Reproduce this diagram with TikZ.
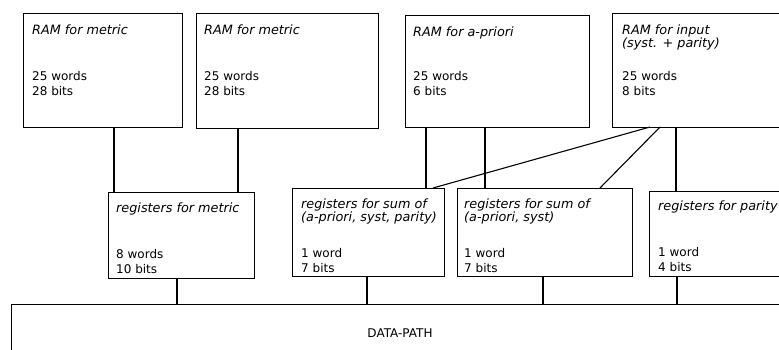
\documentclass[tikz,border=0pt]{standalone}
\usepackage{fontspec}
\setmainfont{DejaVu Sans}
\begin{document}
\begin{tikzpicture}[x=1pt,y=-1pt,
  box/.style={draw, line width=0.8pt, rectangle, anchor=north west, inner sep=0pt, outer sep=0pt},
  wire/.style={line width=1.1pt},
  ttl/.style={anchor=base west, inner sep=0pt, font=\fontsize{12.8}{13}\selectfont\itshape, align=left},
  sz/.style={anchor=base west, inner sep=0pt, font=\fontsize{12}{15}\selectfont, align=left},
  dp/.style={inner sep=0pt, font=\fontsize{12}{13}\selectfont}]
\clip (0,0) rectangle (779,349);
% RAM boxes
\node[box, minimum width=159pt, minimum height=114pt] (ram1) at (23,13) {};
\node[box, minimum width=182pt, minimum height=115pt] (ram2) at (196,13) {};
\node[box, minimum width=184pt, minimum height=112pt] (ram3) at (405,15) {};
\node[box, minimum width=190pt, minimum height=114pt] (ram4) at (612,13) {};
% register boxes
\node[box, minimum width=146pt, minimum height=86pt] (regm) at (108,192) {};
\node[box, minimum width=152pt, minimum height=88pt] (sum1) at (292,188) {};
\node[box, minimum width=175pt, minimum height=88pt] (sum2) at (457,188) {};
\node[box, minimum width=150pt, minimum height=85pt] (regp) at (649,191) {};
% data path
\node[box, minimum width=800pt, minimum height=80pt] (dpath) at (11,304) {};
% texts (base = baseline of last line)
\node[ttl] (t1) at ([shift={(9,21)}]ram1.north west) {RAM for metric};
\node[sz]  (s1) at ([shift={(9,82)}]ram1.north west) {25 words\\28 bits};
\node[ttl] (t2) at ([shift={(8,21)}]ram2.north west) {RAM for metric};
\node[sz]  (s2) at ([shift={(8,82)}]ram2.north west) {25 words\\28 bits};
\node[ttl] (t3) at ([shift={(8,21)}]ram3.north west) {RAM for a-priori};
\node[sz]  (s3) at ([shift={(8,80)}]ram3.north west) {25 words\\6 bits};
\node[ttl] (t4) at ([shift={(10,34)}]ram4.north west) {RAM for input\\(syst. + parity)};
\node[sz]  (s4) at ([shift={(10,82)}]ram4.north west) {25 words\\8 bits};
\node[ttl] (t5) at ([shift={(8,20)}]regm.north west) {registers for metric};
\node[sz]  (s5) at ([shift={(8,81)}]regm.north west) {8 words\\10 bits};
\node[ttl] (t6) at ([shift={(9,33)}]sum1.north west) {registers for sum of\\(a-priori, syst, parity)};
\node[sz]  (s6) at ([shift={(9,84)}]sum1.north west) {1 word\\7 bits};
\node[ttl] (t7) at ([shift={(7,33)}]sum2.north west) {registers for sum of\\(a-priori, syst)};
\node[sz]  (s7) at ([shift={(7,84)}]sum2.north west) {1 word\\7 bits};
\node[ttl] (t8) at ([shift={(9,19)}]regp.north west) {registers for parity};
\node[sz]  (s8) at ([shift={(9,80)}]regp.north west) {1 word\\4 bits};
\node[dp] (t9) at ([shift={(389,29)}]dpath.north west) {DATA-PATH};
% connectors RAM -> registers
\draw[wire] ([xshift=91pt]ram1.south west) -- ([xshift=6pt]regm.north west);
\draw[wire] ([xshift=42pt]ram2.south west) -- ([xshift=130pt]regm.north west);
\draw[wire] ([xshift=21pt]ram3.south west) -- ([xshift=134pt]sum1.north west);
\draw[wire] ([xshift=80pt]ram3.south west) -- ([xshift=28pt]sum2.north west);
\draw[wire] ([xshift=38pt]ram4.south west) -- ([xshift=141pt]sum1.north west);
\draw[wire] ([xshift=48pt]ram4.south west) -- ([xshift=143pt]sum2.north west);
\draw[wire] ([xshift=64pt]ram4.south west) -- ([xshift=27pt]regp.north west);
% connectors registers -> data path
\draw[wire] ([xshift=69pt]regm.south west) -- ([xshift=166pt]dpath.north west);
\draw[wire] ([xshift=75pt]sum1.south west) -- ([xshift=356pt]dpath.north west);
\draw[wire] ([xshift=86pt]sum2.south west) -- ([xshift=532pt]dpath.north west);
\draw[wire] ([xshift=28pt]regp.south west) -- ([xshift=666pt]dpath.north west);
\end{tikzpicture}
\end{document}
